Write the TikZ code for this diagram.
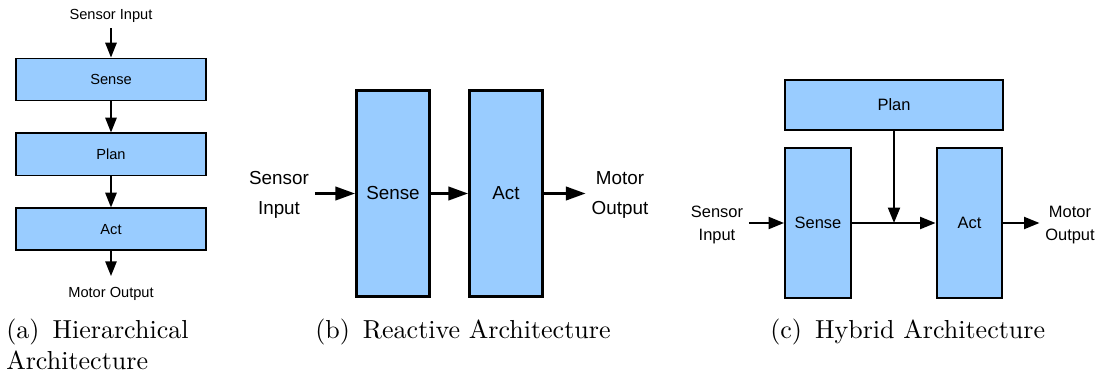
\documentclass[tikz,border=0pt]{standalone}
\usepackage{fontspec}
\usepackage{tikz}
\usetikzlibrary{shapes, arrows.meta, positioning}
\usepackage{xcolor}
\newfontfamily\archfont{Liberation Sans}
\newfontfamily\capfont{lmroman10-regular}[Extension=.otf]
\definecolor{boxblue}{HTML}{99CCFF}
\tikzstyle{module} = [
    rectangle,
    draw=black,
    fill=boxblue,
    inner sep=0pt,
    text centered
]
\tikzstyle{signal} = [
    draw=black,
    -{Triangle[length=10.5pt, width=8pt]}
]
\tikzstyle{caption} = [
    anchor=base west,
    inner sep=0pt,
    align=left,
    font=\capfont\fontsize{18.5}{22}\selectfont
]

\begin{document}
\begin{tikzpicture}[x=0.025cm, y=-0.025cm]
        \useasboundingbox (0,0) rectangle (1099,375);

        % (a) hierarchical
        \begin{scope}[line width=1.4pt, font=\archfont\fontsize{10.4}{12}\selectfont]
            \node[module, minimum width=4.75cm, minimum height=1.05cm] (hSense) at (111,79.5) {Sense};
            \node[module, minimum width=4.75cm, minimum height=1.05cm] (hPlan) [below=0.775cm of hSense] {Plan};
            \node[module, minimum width=4.75cm, minimum height=1.05cm] (hAct) [below=0.775cm of hPlan] {Act};
            \node (hInput) at (111,16) {Sensor Input};
            \node (hOutput) at (111,294) {Motor Output};

            \draw[signal] (hInput) -- (hSense);
            \draw[signal] (hSense) -- (hPlan);
            \draw[signal] (hPlan) -- (hAct);
            \draw[signal, shorten >=4pt] (hAct) -- (hOutput);
        \end{scope}

        % (b) reactive
        \begin{scope}[line width=2pt, font=\archfont\fontsize{13.4}{21}\selectfont]
            \node[module, minimum width=1.825cm, minimum height=5.15cm] (rSense) at (393,193.5) {Sense};
            \node[module, minimum width=1.825cm, minimum height=5.15cm] (rAct) at (506,193.5) {Act};
            \node[align=center] (rInput) at (279,195) {Sensor\\Input};
            \node[align=center] (rOutput) at (620,195) {Motor\\Output};

            \draw[signal, -{Triangle[length=14pt, width=9.5pt]}] (rInput.east |- rSense) -- (rSense);
            \draw[signal, -{Triangle[length=14pt, width=9.5pt]}] (rSense) -- (rAct);
            \draw[signal, -{Triangle[length=14pt, width=9.5pt]}] (rAct) -- (rOutput.west |- rAct);
        \end{scope}

        % (c) hybrid
        \begin{scope}[line width=1.6pt, font=\archfont\fontsize{11.7}{17}\selectfont]
            \node[module, minimum width=5.44cm, minimum height=1.24cm] (yPlan) at (894,105) {Plan};
            \node[module, minimum width=1.64cm, minimum height=3.74cm] (ySense) at (818,223) {Sense};
            \node[module, minimum width=1.64cm, minimum height=3.74cm] (yAct) at (969.5,223) {Act};
            \node[align=center] (yInput) at (717,225) {Sensor\\Input};
            \node[align=center] (yOutput) at (1070,225) {Motor\\Output};
            \coordinate (yJoin) at (yPlan.south |- ySense);

            \draw[signal, -{Triangle[length=11pt, width=8.5pt]}] (yInput.east |- ySense) -- (ySense);
            \draw[signal, -{Triangle[length=11pt, width=8.5pt]}] (ySense) -- (yAct);
            \draw[signal, -{Triangle[length=11pt, width=8.5pt]}] (yPlan) -- (yJoin);
            \draw[signal, -{Triangle[length=11pt, width=8.5pt]}] (yAct) -- (yOutput.west |- yAct);
        \end{scope}

        % captions
        \node[caption] (capA) at (6,369) {(a)\enspace Hierarchical\\Architecture};
        \node[caption] (capB) at (315,338) {(b)\enspace Reactive Architecture};
        \node[caption] (capC) at (770,338) {(c)\enspace Hybrid Architecture};
\end{tikzpicture}
\end{document}
